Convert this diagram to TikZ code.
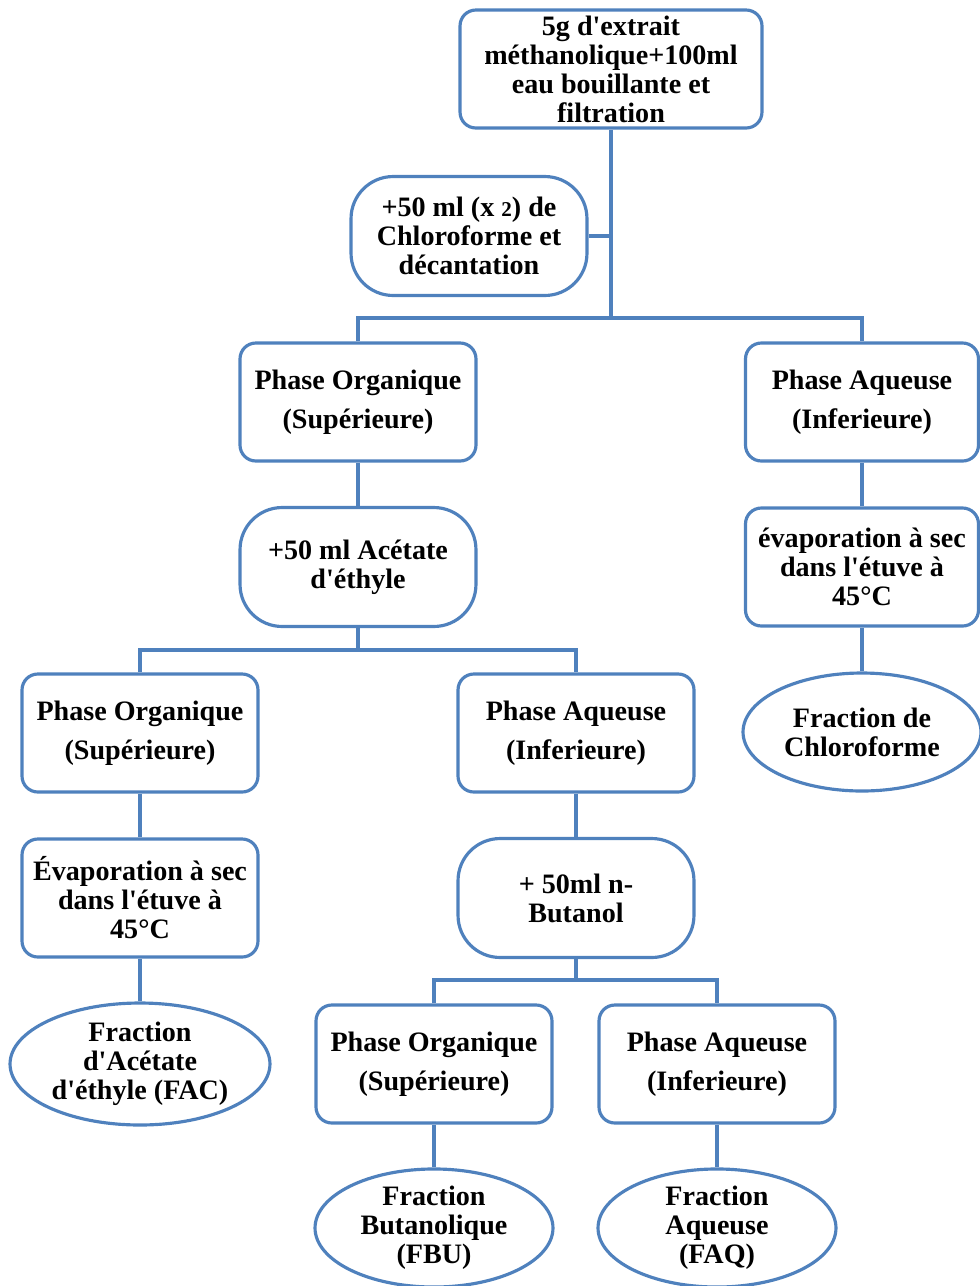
\documentclass[tikz,border=0pt]{standalone}
\usepackage{fontspec}
\setmainfont{Liberation Serif}[Ligatures=TeXOff]
\usepackage{tikz}
\usetikzlibrary{positioning,shapes.geometric,calc}
\definecolor{frame}{HTML}{4F81BD}
\tikzset{
  base/.style={draw=frame, line width=1.8pt, fill=white, align=center, inner sep=1pt,
    font=\bfseries\fontsize{16}{16.5}\selectfont},
  box/.style={base, rounded corners=9pt, minimum width=4.72cm, minimum height=2.36cm},
  pill/.style={base, rounded corners=24pt, minimum width=4.72cm, minimum height=2.38cm},
  res/.style={base, ellipse, inner sep=0pt, minimum width=4.76cm, minimum height=2.36cm},
  ln/.style={draw=frame, line width=2.2pt},
}

\begin{document}
\begin{tikzpicture}[x=0.02cm, y=-0.02cm]
\useasboundingbox (0,0) rectangle (980,1286);
% extraction
\node[box, minimum width=6.04cm] (src) at (611,69) {5g d'extrait\\méthanolique+100ml\\eau bouillante et\\filtration};
\node[pill] (chl) at (469,236) {+50 ml (x {\fontsize{12}{13}\selectfont 2}) de\\Chloroforme et\\décantation};
\node[box] (po1) at (358,402) {Phase Organique\\[6pt](Supérieure)};
\node[box, minimum width=4.66cm] (pa1) at (862,402) {Phase Aqueuse\\[6pt](Inferieure)};
% right branch
\node[box, minimum width=4.66cm] (ev1) at (862,567) {évaporation à sec\\dans l'étuve à\\45°C};
\node[res, minimum width=4.76cm] (fch) at (862,732) {Fraction de\\Chloroforme};
% acetate branch
\node[pill] (ace) at (358,567) {+50 ml Acétate\\d'éthyle};
\node[box] (po2) at (140,733) {Phase Organique\\[6pt](Supérieure)};
\node[box] (pa2) at (576,733) {Phase Aqueuse\\[6pt](Inferieure)};
\node[box] (ev2) at (140,898) {Évaporation à sec\\dans l'étuve à\\45°C};
\node[res, minimum width=5.2cm, minimum height=2.44cm] (fac) at (140,1064) {Fraction\\d'Acétate\\d'éthyle (FAC)};
% butanol branch
\node[pill] (but) at (576,898) {+ 50ml n-\\Butanol};
\node[box] (po3) at (434,1064) {Phase Organique\\[6pt](Supérieure)};
\node[box] (pa3) at (717,1064) {Phase Aqueuse\\[6pt](Inferieure)};
\node[res, minimum height=2.32cm] (fbu) at (434,1228) {Fraction\\Butanolique\\(FBU)};
\node[res, minimum height=2.32cm] (faq) at (717,1228) {Fraction\\Aqueuse\\(FAQ)};
% junctions
\coordinate (j1) at (611,318);
\coordinate (j2) at (358,650);
\coordinate (j3) at (576,980);
\path[ln] (src) -- (j1);
\path[ln] (chl.east) -- (chl.east -| src.south);
\path[ln] (po1.north) |- (j1) -| (pa1.north);
\path[ln] (po1) -- (ace);
\path[ln] (ace) -- (j2);
\path[ln] (po2.north) |- (j2) -| (pa2.north);
\path[ln] (pa2) -- (but);
\path[ln] (but) -- (j3);
\path[ln] (po3.north) |- (j3) -| (pa3.north);
\foreach \a/\b in {pa1/ev1,ev1/fch,po2/ev2,ev2/fac,po3/fbu,pa3/faq} \path[ln] (\a) -- (\b);
\end{tikzpicture}
\end{document}
